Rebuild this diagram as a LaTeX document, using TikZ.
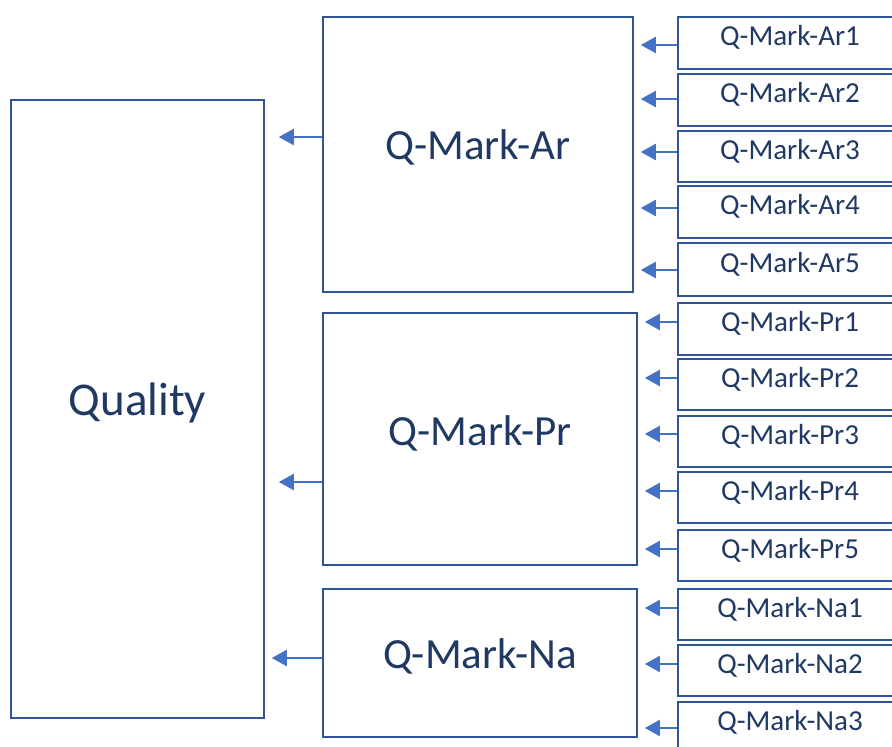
\documentclass[tikz,border=0pt]{standalone}
\usepackage{fontspec}
\setmainfont{Carlito}
\usetikzlibrary{arrows.meta,calc}
\definecolor{boxc}{HTML}{2F5597}
\definecolor{arrc}{HTML}{4472C4}
\definecolor{txtc}{HTML}{1F3864}
\tikzset{
  bigbox/.style={draw=boxc, line width=1.6pt, inner sep=0pt, text=txtc, font=\fontsize{43}{50}\selectfont},
  smallbox/.style={draw=boxc, line width=1.6pt, inner sep=0pt, minimum width=224pt, text=txtc, font=\fontsize{29}{34}\selectfont},
  arr/.style={draw=arrc, line width=2.2pt, -{Triangle[length=15pt,width=16pt]}}
}
\begin{document}
\begin{tikzpicture}[x=1pt,y=-1pt]
\useasboundingbox (0,0) rectangle (892,747);
\clip (0,0) rectangle (892,747);
% big boxes
\node[bigbox, minimum width=253pt, minimum height=618pt, font=\fontsize{47}{54}\selectfont] (q) at (137.5,409) {\raisebox{19pt}{Quality}};
\node[bigbox, minimum width=310pt, minimum height=275pt] (ar) at (478,154.5) {\raisebox{19pt}{Q-Mark-Ar}};
\node[bigbox, minimum width=314pt, minimum height=252pt] (pr) at (480,439) {\raisebox{17pt}{Q-Mark-Pr}};
\node[bigbox, minimum width=314pt, minimum height=148pt] (na) at (480,663) {\raisebox{18pt}{Q-Mark-Na}};
% small boxes
\foreach \n/\t/\ya/\yb in {a1/Ar1/17/69, a2/Ar2/74/126, a3/Ar3/131/182, a4/Ar4/186/238, a5/Ar5/243/296,
  p1/Pr1/303/355, p2/Pr2/359/410, p3/Pr3/416/467, p4/Pr4/472/523, p5/Pr5/530/581,
  n1/Na1/589/640, n2/Na2/645/696, n3/Na3/702/754}{
  \pgfmathsetmacro{\yc}{(\ya+\yb)/2}
  \pgfmathsetmacro{\hh}{\yb-\ya}
  \node[smallbox, minimum height=\hh pt] (\n) at (790,\yc) {\raisebox{14.5pt}{Q-Mark-\t}};
}
% arrows small -> middle
\foreach \n/\m/\dy in {a1/ar/-2, a2/ar/1, a3/ar/4.5, a4/ar/4, a5/ar/-0.5,
  p1/pr/7, p2/pr/6.5, p3/pr/7.5, p4/pr/6.5, p5/pr/6.5,
  n1/na/6.5, n2/na/6.5, n3/na/0}{
  \draw[arr, shorten >=1pt] ([yshift=\dy pt]\n.west) -- ([yshift=\dy pt,xshift=6pt]\n.west -| \m.east);
}
\draw[arr] ([yshift=17.5pt]ar.west) -- ([yshift=17.5pt,xshift=14pt]ar.west -| q.east);
\draw[arr] ([yshift=-43pt]pr.west) -- ([yshift=-43pt,xshift=14pt]pr.west -| q.east);
\draw[arr] ([yshift=5pt]na.west) -- ([yshift=5pt,xshift=7pt]na.west -| q.east);
\end{tikzpicture}
\end{document}
